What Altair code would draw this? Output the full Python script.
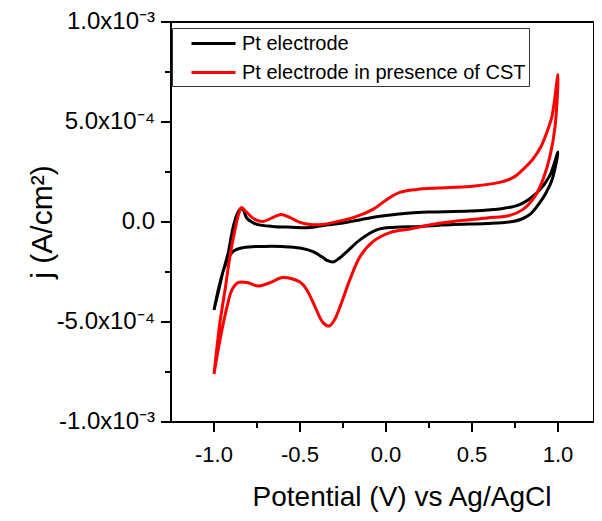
import altair as alt
import pandas as pd

# ---- data ----
series_names = ["Pt electrode", "Pt electrode in presence of CST"]
series_colors = ["#000000", "#ff0000"]

black_x = [-1.0, -0.975, -0.948, -0.919, -0.89, -0.866, -0.845, -0.83, -0.81, -0.78, -0.75,
           -0.66, -0.55, -0.44, -0.35, -0.25, -0.11, 0.0, 0.14, 0.25, 0.49, 0.68, 0.78,
           0.88, 0.95, 1.0,
           0.965, 0.93, 0.895, 0.837, 0.79, 0.738, 0.587, 0.39, 0.2, 0.05, -0.05, -0.15,
           -0.227, -0.27, -0.308, -0.34, -0.366, -0.424, -0.5, -0.6, -0.7, -0.83, -0.89,
           -0.936, -0.97, -1.0]
black_y = [-4.4e-4, -3.5e-4, -2.5e-4, -1.6e-4, -3.0e-5, 3.8e-5, 6.6e-5, 6.0e-5, 2.0e-5, 0.0, -1.2e-5,
           -2.2e-5, -2.6e-5, -2.8e-5, -1.5e-5, -5e-6, 1.8e-5, 3.2e-5, 4.5e-5, 5.0e-5, 5.5e-5, 6.8e-5, 8.8e-5,
           1.48e-4, 2.28e-4, 3.5e-4,
           2.1e-4, 1.45e-4, 9.8e-5, 3.8e-5, 1.5e-5, 2.5e-6, -7.5e-6, -1.3e-5, -2.2e-5, -2.6e-5, -3.8e-5, -8.8e-5,
           -1.48e-4, -1.8e-4, -2.0e-4, -1.93e-4, -1.78e-4, -1.48e-4, -1.3e-4, -1.23e-4, -1.22e-4, -1.28e-4, -1.48e-4,
           -2.2e-4, -3.2e-4, -4.4e-4]

red_x = [-1.0, -0.965, -0.936, -0.907, -0.878, -0.855, -0.84, -0.81, -0.762, -0.715, -0.657,
         -0.61, -0.56, -0.5, -0.44, -0.37, -0.31, -0.17, -0.076, 0.006, 0.08, 0.18, 0.3,
         0.49, 0.66, 0.74, 0.797, 0.85, 0.9, 0.94, 0.965, 1.0,
         0.983, 0.953, 0.913, 0.866, 0.797, 0.72, 0.587, 0.39, 0.25, 0.14, 0.023, -0.076,
         -0.151, -0.21, -0.267, -0.3, -0.33, -0.366, -0.413, -0.46, -0.5, -0.6, -0.674,
         -0.744, -0.808, -0.86, -0.895, -0.924, -0.965, -1.0]
red_y = [-7.6e-4, -5.0e-4, -3.4e-4, -1.7e-4, -3.8e-5, 4.5e-5, 7.3e-5, 4.8e-5, 1.3e-5, 3e-6, 2.3e-5,
         3.8e-5, 2.3e-5, -2e-6, -1.3e-5, -1.2e-5, -3e-6, 2.8e-5, 6.3e-5, 1.13e-4, 1.48e-4, 1.63e-4, 1.7e-4,
         1.78e-4, 1.98e-4, 2.23e-4, 2.63e-4, 3.1e-4, 3.75e-4, 4.6e-4, 5.28e-4, 7.38e-4,
         4.78e-4, 3.28e-4, 2.13e-4, 1.28e-4, 6.3e-5, 3.3e-5, 2.0e-5, 2e-6, -1.5e-5, -3.5e-5, -5.3e-5, -9.8e-5,
         -1.73e-4, -2.88e-4, -4.23e-4, -4.9e-4, -5.2e-4, -5.03e-4, -4.23e-4, -3.4e-4, -3.0e-4, -2.78e-4, -3.03e-4,
         -3.2e-4, -3.03e-4, -3.03e-4, -3.38e-4, -4.23e-4, -5.88e-4, -7.6e-4]

x_major = [-1.0, -0.5, 0.0, 0.5, 1.0]
x_labels = ["-1.0", "-0.5", "0.0", "0.5", "1.0"]
x_minor = [-0.75, -0.25, 0.25, 0.75]
y_major = [-1e-3, -5e-4, 0.0, 5e-4, 1e-3]
y_labels = ["-1.0x10\u207b\u00b3", "-5.0x10\u207b\u2074", "0.0", "5.0x10\u207b\u2074", "1.0x10\u207b\u00b3"]
y_minor = [-7.5e-4, -2.5e-4, 2.5e-4, 7.5e-4]
x_title = "Potential (V) vs Ag/AgCl"
y_title = "j (A/cm\u00b2)"

rows = []
for name, xs, ys in [(series_names[0], black_x, black_y), (series_names[1], red_x, red_y)]:
    for i, (a, b) in enumerate(zip(xs, ys)):
        rows.append({"series": name, "E": a, "j": b, "idx": i})
df = pd.DataFrame(rows)

FONT = "Liberation Sans"
W, H = 423, 400
MAJOR, MINOR = 10, 6
x_scale = alt.Scale(domain=[-1.25, -1.25 + W / 172.0], nice=False, zero=False)
y_scale = alt.Scale(domain=[-1e-3, 1e-3], nice=False, zero=False)

legend = alt.Legend(
    orient="none", legendX=1, legendY=6, title=None,
    strokeColor="#333333", fillColor="white", padding=3,
    symbolType="M-2,0L2,0", symbolSize=484, symbolStrokeWidth=3, symbolOffset=26,
    labelFontSize=20, labelFont=FONT, labelColor="black", labelLimit=500, labelOffset=16,
    rowPadding=6,
)

lines = (
    alt.Chart(df)
    .mark_line(strokeWidth=3, interpolate="catmull-rom")
    .encode(
        x=alt.X("E:Q", scale=x_scale, axis=None),
        y=alt.Y("j:Q", scale=y_scale, axis=None),
        color=alt.Color("series:N", scale=alt.Scale(domain=series_names, range=series_colors), legend=legend),
        order="idx:Q",
    )
)


# axis ticks and tick labels, placed through the same scales
def x_ticks(values, length):
    return alt.Chart(pd.DataFrame({"v": values})).mark_rule(color="black", strokeWidth=2).encode(
        x=alt.X("v:Q", scale=x_scale, axis=None),
        y=alt.value(H), y2=alt.value(H + length),
    )


def y_ticks(values, length):
    return alt.Chart(pd.DataFrame({"v": values})).mark_rule(color="black", strokeWidth=2).encode(
        y=alt.Y("v:Q", scale=y_scale, axis=None),
        x=alt.value(0), x2=alt.value(-length),
    )


x_tick_labels = alt.Chart(pd.DataFrame({"v": x_major, "t": x_labels})).mark_text(
    font=FONT, fontSize=22, color="black", align="center", baseline="top"
).encode(
    x=alt.X("v:Q", scale=x_scale, axis=None),
    y=alt.value(H + MAJOR + 13),
    text="t:N",
)
y_tick_labels = alt.Chart(pd.DataFrame({"v": y_major, "t": y_labels})).mark_text(
    font=FONT, fontSize=24, color="black", align="right", baseline="middle"
).encode(
    y=alt.Y("v:Q", scale=y_scale, axis=None),
    x=alt.value(-(MAJOR + 6)),
    text="t:N",
)
x_title_mark = alt.Chart(pd.DataFrame({"t": [x_title]})).mark_text(
    font=FONT, fontSize=28, color="black", align="center", baseline="alphabetic"
).encode(x=alt.value(231), y=alt.value(H + 84), text="t:N")
y_title_mark = alt.Chart(pd.DataFrame({"t": [y_title]})).mark_text(
    font=FONT, fontSize=30, color="black", align="center", baseline="alphabetic", angle=270
).encode(x=alt.value(-119), y=alt.value(H / 2), text="t:N")

chart = (
    alt.layer(lines, x_ticks(x_major, MAJOR), x_ticks(x_minor, MINOR),
              y_ticks(y_major, MAJOR), y_ticks(y_minor, MINOR),
              x_tick_labels, y_tick_labels, x_title_mark, y_title_mark)
    .properties(
        width=W, height=H,
        padding={"left": 163, "top": 14, "right": 0, "bottom": 91},
        autosize=alt.AutoSizeParams(type="none"),
    )
    .configure_view(stroke="black", strokeWidth=2)
)

chart.save("out.html", embed_options={"renderer": "svg", "actions": False})
